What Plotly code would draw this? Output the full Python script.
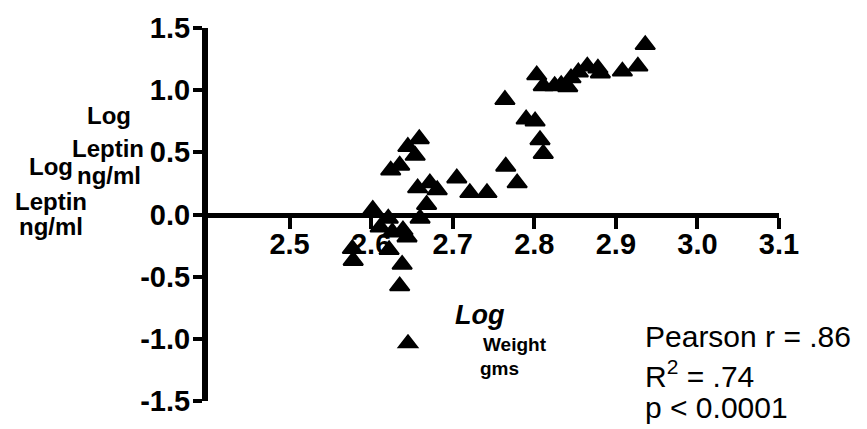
import plotly.graph_objects as go

# Data (log10 weight in g, log10 leptin in ng/ml)
log_weight = [
    2.577, 2.578, 2.602, 2.611, 2.621, 2.622, 2.624, 2.626, 2.635, 2.635,
    2.638, 2.639, 2.644, 2.645, 2.654, 2.657, 2.659, 2.660, 2.668, 2.672,
    2.681, 2.705, 2.721, 2.742, 2.764, 2.765, 2.779, 2.790, 2.801, 2.807,
    2.811, 2.803, 2.811, 2.825, 2.833, 2.841, 2.845, 2.854, 2.865, 2.878,
    2.881, 2.908, 2.927, 2.936,
]
log_leptin = [
    -0.276, -0.371, 0.039, -0.103, -0.032, -0.284, 0.355, -0.142, 0.395, -0.576,
    -0.403, -0.126, -0.182, 0.545, 0.474, 0.213, 0.608, -0.032, 0.079, 0.253,
    0.197, 0.292, 0.174, 0.174, 0.923, 0.387, 0.253, 0.766, 0.750, 0.600,
    0.489, 1.121, 1.034, 1.034, 1.042, 1.026, 1.097, 1.144, 1.192, 1.176,
    1.137, 1.152, 1.192, 1.365,
]

x_ticks = [2.5, 2.6, 2.7, 2.8, 2.9, 3.0, 3.1]
x_ticklabels = ["2.5", "2.6", "2.7", "2.8", "2.9", "3.0", "3.1"]
y_ticks = [-1.5, -1.0, -0.5, 0.0, 0.5, 1.0, 1.5]
y_ticklabels = ["-1.5", "-1.0", "-0.5", "0.0", "0.5", "1.0", "1.5"]

stats_lines = ["Pearson r = .86", "R<sup>2</sup> = .74", "p < 0.0001"]

W, H = 867, 429
PL, PR, PT, PB = 208, 779, 21, 401


def fx(px):
    return (px - PL) / (PR - PL)


def fy(py):
    return (PB - py) / (PB - PT)


FONT = "Liberation Sans, Arial, Helvetica, sans-serif"

fig = go.Figure()
fig.add_trace(go.Scatter(
    x=log_weight, y=log_leptin, mode="markers",
    name="<b>Weight</b>",
    marker=dict(symbol="triangle-up", size=17, color="black",
                line=dict(color="black", width=2)),
    cliponaxis=False,
))

annotations = []
# two overlapping copies of the y title, as in the reference
for txt, cx, base in [("Log", 109, 119), ("Leptin", 107.5, 152), ("ng/ml", 109, 180),
                      ("Log", 51, 170), ("Leptin", 50.5, 206), ("ng/ml", 51, 232)]:
    annotations.append(dict(text=f"<b>{txt}</b>", x=fx(cx), y=fy(base - 0.35 * 24),
                            xref="paper", yref="paper", xanchor="center", yanchor="middle",
                            borderpad=0,
                            showarrow=False, font=dict(size=24, color="black", family=FONT)))
annotations.append(dict(text="<b><i>Log</i></b>", x=fx(480), y=fy(323 - 0.35 * 27),
                        xref="paper", yref="paper", xanchor="center", yanchor="middle",
                        showarrow=False, font=dict(size=27, color="black", family=FONT)))
annotations.append(dict(text="<b>gms</b>", x=fx(499), y=fy(375 - 0.35 * 19),
                        xref="paper", yref="paper", xanchor="center", yanchor="middle",
                        borderpad=0,
                        showarrow=False, font=dict(size=19, color="black", family=FONT)))
for line, base in zip(stats_lines, [346, 384, 418]):
    annotations.append(dict(text=line, x=fx(643), y=fy(base - 0.35 * 30),
                            xref="paper", yref="paper", xanchor="left", yanchor="middle",
                            showarrow=False, font=dict(size=30, color="black", family=FONT)))

fig.update_layout(
    width=W, height=H,
    margin=dict(l=PL, r=W - PR, t=PT, b=H - PB, pad=0),
    paper_bgcolor="white", plot_bgcolor="white",
    font=dict(family=FONT, color="black"),
    showlegend=True,
    legend=dict(x=fx(333), y=fy(323), xanchor="left", yanchor="top",
                itemwidth=140, valign="middle", bgcolor="rgba(0,0,0,0)",
                font=dict(size=19, color="black", family=FONT)),
    annotations=annotations,
    xaxis=dict(range=[2.4, 3.1], tickvals=x_ticks, ticktext=[f"<b>{t}</b>" for t in x_ticklabels],
               anchor="free", position=0.5, showline=True, linewidth=5, linecolor="black",
               ticks="outside", ticklen=11, tickwidth=4, tickcolor="black",
               ticklabelstandoff=-9,
               showgrid=False, zeroline=False,
               tickfont=dict(size=29, color="black", family=FONT)),
    yaxis=dict(range=[-1.5, 1.5], tickvals=y_ticks, ticktext=[f"<b>{t}</b>" for t in y_ticklabels],
               showline=True, linewidth=6, linecolor="black",
               ticks="outside", ticklen=9, tickwidth=4, tickcolor="black",
               ticklabelstandoff=-3,
               showgrid=False, zeroline=False,
               tickfont=dict(size=29, color="black", family=FONT)),
)

fig.write_html("out.html")
